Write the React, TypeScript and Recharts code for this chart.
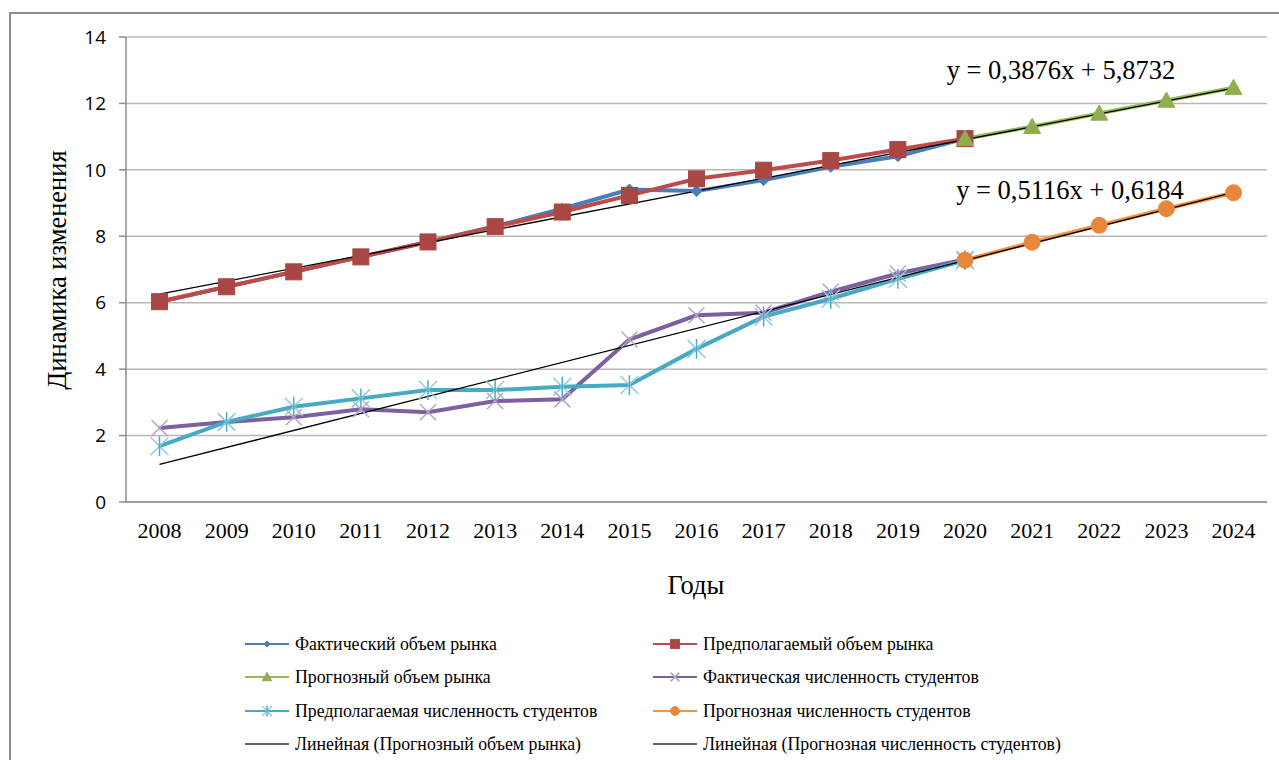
import React from "react";
import { LineChart, Line, XAxis, YAxis, CartesianGrid } from "recharts";

// categories and values
const years = [
  "2008", "2009", "2010", "2011", "2012", "2013", "2014", "2015", "2016",
  "2017", "2018", "2019", "2020", "2021", "2022", "2023", "2024",
];
const actualMarket = [6.03, 6.48, 6.93, 7.38, 7.83, 8.3, 8.83, 9.41, 9.36, 9.69, 10.09, 10.41, 10.94, null, null, null, null];
const expectedMarket = [6.03, 6.48, 6.93, 7.38, 7.83, 8.29, 8.73, 9.23, 9.73, 9.99, 10.28, 10.61, 10.94, null, null, null, null];
const forecastMarket = [null, null, null, null, null, null, null, null, null, null, null, null, 10.94, 11.3, 11.7, 12.09, 12.47];
const actualStudents = [2.23, 2.41, 2.55, 2.79, 2.7, 3.04, 3.09, 4.89, 5.62, 5.7, 6.33, 6.88, 7.3, null, null, null, null];
const expectedStudents = [1.68, 2.41, 2.87, 3.12, 3.37, 3.37, 3.47, 3.52, 4.61, 5.58, 6.12, 6.72, 7.28, null, null, null, null];
const forecastStudents = [null, null, null, null, null, null, null, null, null, null, null, null, 7.28, 7.82, 8.33, 8.83, 9.31];
// trend line endpoints (first and last year)
const trendMarket = [6.26, null, null, null, null, null, null, null, null, null, null, null, null, null, null, null, 12.46];
const trendStudents = [1.13, null, null, null, null, null, null, null, null, null, null, null, null, null, null, null, 9.32];
const yTicks = [0, 2, 4, 6, 8, 10, 12, 14];
const equations = ["y = 0,3876x + 5,8732", "y = 0,5116x + 0,6184"];

const data = years.map((year, i) => ({
  year,
  actualMarket: actualMarket[i],
  expectedMarket: expectedMarket[i],
  forecastMarket: forecastMarket[i],
  actualStudents: actualStudents[i],
  expectedStudents: expectedStudents[i],
  forecastStudents: forecastStudents[i],
  trendMarket: trendMarket[i],
  trendStudents: trendStudents[i],
}));

const SERIF = "'Liberation Serif', 'Times New Roman', serif";
const SANS = "'Open Sans', sans-serif";

type Kind = "diamond" | "square" | "triangle" | "x" | "star" | "circle" | "none";

const markerShape = (kind: Kind, cx: number, cy: number, scale = 1, key?: any) => {
  switch (kind) {
    case "diamond": {
      const s = 5.5 * scale;
      return <path key={key} d={`M${cx},${cy - s}L${cx + s},${cy}L${cx},${cy + s}L${cx - s},${cy}Z`} fill="#4A7EBB" stroke="#4A7EBB" />;
    }
    case "square": {
      const s = 8 * scale;
      return <rect key={key} x={cx - s} y={cy - s} width={s * 2} height={s * 2} fill="#AA4643" stroke="#AA4643" />;
    }
    case "triangle": {
      const s = 8.5 * scale;
      return <path key={key} d={`M${cx},${cy - s}L${cx + s},${cy + s * 0.8}L${cx - s},${cy + s * 0.8}Z`} fill="#8FAF4F" stroke="#8FAF4F" />;
    }
    case "x": {
      const s = 8 * scale;
      return (
        <g key={key} stroke="#B3A2C7" strokeWidth={1.5}>
          <line x1={cx - s} y1={cy - s} x2={cx + s} y2={cy + s} />
          <line x1={cx - s} y1={cy + s} x2={cx + s} y2={cy - s} />
        </g>
      );
    }
    case "star": {
      const s = 9 * scale;
      return (
        <g key={key} stroke="#8CCBDC" strokeWidth={1.5}>
          <line x1={cx - s} y1={cy - s} x2={cx + s} y2={cy + s} />
          <line x1={cx - s} y1={cy + s} x2={cx + s} y2={cy - s} />
          <line x1={cx} y1={cy - s * 1.1} x2={cx} y2={cy + s * 1.1} stroke="#4BACC6" />
        </g>
      );
    }
    case "circle":
      return <circle key={key} cx={cx} cy={cy} r={8 * scale} fill="#E8873C" stroke="#E8873C" />;
    default:
      return <g key={key} />;
  }
};

const makeDot = (kind: Kind) => (props: any) => {
  const { cx, cy, value, index } = props;
  if (cx == null || cy == null || value == null) return <g key={`d-${kind}-${index}`} />;
  return markerShape(kind, cx, cy, 1, `d-${kind}-${index}`);
};

const series = [
  { key: "actualMarket", name: "Фактический объем рынка", color: "#4A7EBB", kind: "diamond" as Kind },
  { key: "expectedMarket", name: "Предполагаемый объем рынка", color: "#BE4B48", kind: "square" as Kind },
  { key: "forecastMarket", name: "Прогнозный объем рынка", color: "#98B954", kind: "triangle" as Kind },
  { key: "actualStudents", name: "Фактическая численность студентов", color: "#7D60A0", kind: "x" as Kind },
  { key: "expectedStudents", name: "Предполагаемая численность студентов", color: "#46AAC5", kind: "star" as Kind },
  { key: "forecastStudents", name: "Прогнозная численность студентов", color: "#F69240", kind: "circle" as Kind },
];

const legendItems = [
  ...series.map((s) => ({ name: s.name, color: s.color, kind: s.kind })),
  { name: "Линейная (Прогнозный объем рынка)", color: "#333333", kind: "none" as Kind },
  { name: "Линейная (Прогнозная численность студентов)", color: "#333333", kind: "none" as Kind },
];

const legendRows = [644, 677, 711, 744];
const legendCols = [245, 653];

export default function App() {
  return (
    <div style={{ position: "fixed", left: 0, top: 0, width: 1279, height: 760, overflow: "hidden", background: "#fff" }}>
      <div style={{ position: "absolute", left: 9, top: 12, width: 1300, height: 800, border: "2px solid #8c8c8c" }} />
      <div style={{ position: "absolute", left: 0, top: 0 }}>
        <LineChart width={1279} height={760} data={data} margin={{ top: 37, right: 12, left: 0, bottom: 228 }}>
          <CartesianGrid vertical={false} stroke="#b8b8b8" strokeWidth={1.5} />
          <XAxis
            dataKey="year"
            height={30}
            padding={{ left: 33.5, right: 33.5 }}
            stroke="#8c8c8c"
            strokeWidth={1.5}
            tickLine={false}
            tickSize={0}
            tickMargin={20}
            tick={{ fill: "#000", fontSize: 22, fontFamily: SERIF }}
            interval={0}
          />
          <YAxis
            width={126}
            domain={[0, 14]}
            ticks={yTicks}
            stroke="#8c8c8c"
            strokeWidth={1.5}
            tickSize={7}
            tickMargin={13}
            tick={{ fill: "#000", fontSize: 19, fontFamily: SANS }}
          />
          {series.map((s) => (
            <Line
              key={s.key}
              dataKey={s.key}
              name={s.name}
              stroke={s.color}
              strokeWidth={4}
              dot={makeDot(s.kind)}
              activeDot={false}
              isAnimationActive={false}
            />
          ))}
          <Line dataKey="trendMarket" stroke="#000" strokeWidth={1.3} dot={false} connectNulls isAnimationActive={false} />
          <Line dataKey="trendStudents" stroke="#000" strokeWidth={1.3} dot={false} connectNulls isAnimationActive={false} />
          <text x={57} y={270} transform="rotate(-90 57 270)" textAnchor="middle" dominantBaseline="central" fontFamily={SERIF} fontSize={26.5} fill="#000">
            Динамика изменения
          </text>
          <text x={696} y={585} textAnchor="middle" dominantBaseline="central" fontFamily={SERIF} fontSize={26.5} fill="#000">
            Годы
          </text>
          <text x={1061} y={70} textAnchor="middle" dominantBaseline="central" fontFamily={SERIF} fontSize={26.5} fill="#000">
            {equations[0]}
          </text>
          <text x={1070} y={190} textAnchor="middle" dominantBaseline="central" fontFamily={SERIF} fontSize={26.5} fill="#000">
            {equations[1]}
          </text>
        </LineChart>
      </div>
      {legendItems.map((item, i) => {
        const left = legendCols[i % 2];
        const top = legendRows[Math.floor(i / 2)];
        return (
          <div key={item.name} style={{ position: "absolute", left, top: top - 12, height: 24, display: "flex", alignItems: "center" }}>
            <svg width={44} height={24}>
              <line x1={0} y1={12} x2={44} y2={12} stroke={item.color} strokeWidth={item.kind === "none" ? 1.5 : 2} />
              {markerShape(item.kind, 22, 12, 0.55)}
            </svg>
            <span style={{ fontFamily: SERIF, fontSize: 17.8, color: "#000", marginLeft: i % 2 === 0 ? 6 : 6, whiteSpace: "nowrap" }}>{item.name}</span>
          </div>
        );
      })}
    </div>
  );
}
